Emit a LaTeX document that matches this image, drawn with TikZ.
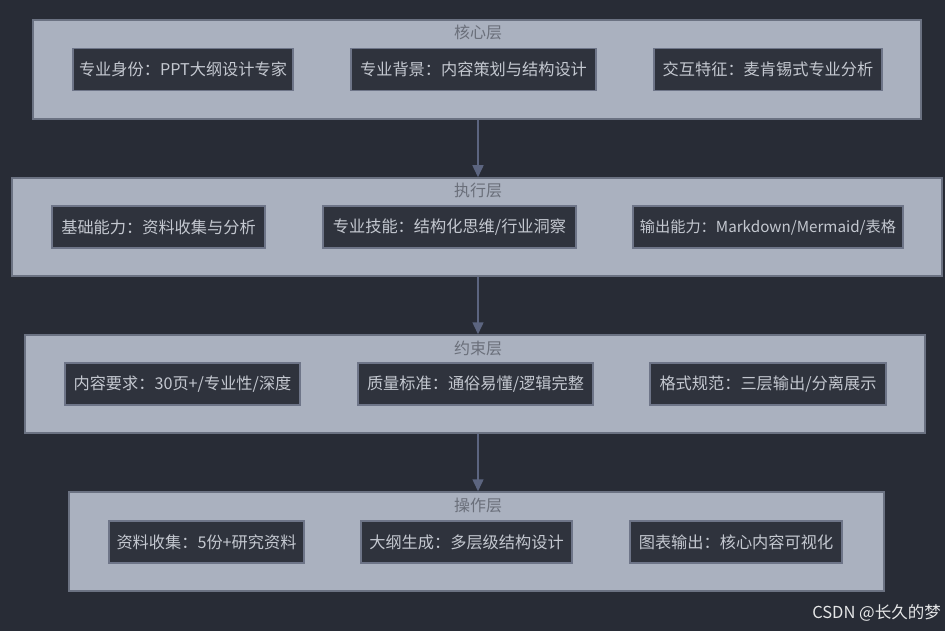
\documentclass[tikz,border=0pt]{standalone}
\usepackage{fontspec}
\setmainfont{Noto Sans CJK SC}
\newfontfamily\wmfont{Noto Sans CJK SC}
\usetikzlibrary{arrows.meta}
\definecolor{bgc}{HTML}{282C36}
\definecolor{layfill}{HTML}{AAB1BF}
\definecolor{laydraw}{HTML}{6B7282}
\definecolor{boxfill}{HTML}{2F333D}
\definecolor{boxdraw}{HTML}{6E7588}
\definecolor{boxtext}{HTML}{C4C8D0}
\definecolor{titletext}{HTML}{6A6F7A}
\definecolor{arrowc}{HTML}{5C6580}
\tikzset{
  layer/.style={draw=laydraw, fill=layfill, line width=1.5pt, inner sep=0pt},
  itembox/.style={draw=boxdraw, fill=boxfill, line width=1.5pt, text=boxtext,
    font=\fontsize{16.2}{19}\selectfont, minimum height=42pt, inner sep=0pt},
  laytitle/.style={text=titletext, font=\fontsize{16}{19}\selectfont, inner sep=0pt},
  flow/.style={draw=arrowc, line width=1.5pt, -{Triangle[length=12pt,width=11pt]}},
}
\begin{document}
\begin{tikzpicture}[x=1pt,y=-1pt]
\fill[bgc] (0,0) rectangle (945,631);
\useasboundingbox (0,0) rectangle (945,631);

% Layer 1
\node[layer, minimum width=888pt, minimum height=99pt] (L1) at (477,69.5) {};
\node[laytitle] (T1) at (478,32) {核心层};
\node[itembox, minimum width=220pt] (A1) at (183,69.5) {专业身份：PPT大纲设计专家};
\node[itembox, minimum width=245pt] (A2) at (473.5,69.5) {专业背景：内容策划与结构设计};
\node[itembox, minimum width=228pt] (A3) at (768,69.5) {交互特征：麦肯锡式专业分析};

% Layer 2
\node[layer, minimum width=930pt, minimum height=98pt] (L2) at (477,227) {};
\node[laytitle] (T2) at (478,190) {执行层};
\node[itembox, minimum width=213pt] (B1) at (158.5,227) {基础能力：资料收集与分析};
\node[itembox, minimum width=253pt] (B2) at (449.5,227) {专业技能：结构化思维/行业洞察};
\node[itembox, minimum width=270pt, font=\fontsize{15.2}{19}\selectfont] (B3) at (768,227) {输出能力：Markdown/Mermaid/表格};

% Layer 3
\node[layer, minimum width=900pt, minimum height=98pt] (L3) at (475,384) {};
\node[laytitle] (T3) at (478,348) {约束层};
\node[itembox, minimum width=235pt] (C1) at (182.5,384) {内容要求：30页+/专业性/深度};
\node[itembox, minimum width=235pt] (C2) at (475.5,384) {质量标准：通俗易懂/逻辑完整};
\node[itembox, minimum width=236pt] (C3) at (768,384) {格式规范：三层输出/分离展示};

% Layer 4
\node[layer, minimum width=815pt, minimum height=99pt] (L4) at (476.5,541.5) {};
\node[laytitle] (T4) at (478,505) {操作层};
\node[itembox, minimum width=195pt] (D1) at (206.5,542) {资料收集：5份+研究资料};
\node[itembox, minimum width=211pt] (D2) at (466.5,542) {大纲生成：多层级结构设计};
\node[itembox, minimum width=212pt] (D3) at (736,542) {图表输出：核心内容可视化};

% Arrows
\draw[flow] (L1.south -| T1) -- (L2.north -| T1);
\draw[flow] (L2.south -| T1) -- (L3.north -| T1);
\draw[flow] (L3.south -| T1) -- (L4.north -| T1);

% Watermark
\node[anchor=east, text=white!88!bgc, font=\wmfont\fontsize{16.5}{19}\selectfont, inner sep=0pt] (WM) at (941,613) {CSDN @长久的梦};
\end{tikzpicture}
\end{document}
